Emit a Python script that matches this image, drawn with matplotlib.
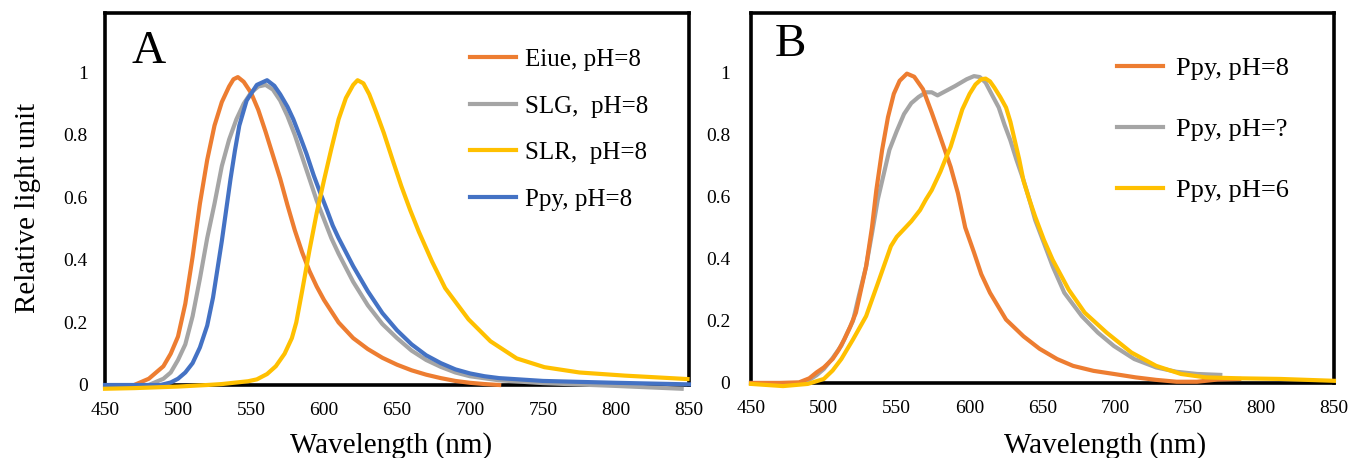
import matplotlib.pyplot as plt
from matplotlib.ticker import FixedLocator

plt.rcParams['font.family'] = ['Liberation Serif', 'DejaVu Serif']

ORANGE = '#ED7D31'
GRAY = '#A5A5A5'
YELLOW = '#FFC000'
BLUE = '#4472C4'

# ---- panel A data (wavelength nm, relative light unit)
eiue_wl = [470, 480, 490, 495, 500, 505, 510, 515, 520, 525, 530, 535, 538, 541, 545, 550,
           555, 560, 565, 570, 575, 580, 585, 590, 595, 600, 610, 620, 630, 640, 650, 660,
           670, 680, 690, 700, 710, 720]
eiue_val = [0, 0.02, 0.06, 0.10, 0.155, 0.26, 0.41, 0.58, 0.72, 0.83, 0.905, 0.955, 0.978,
            0.985, 0.97, 0.935, 0.88, 0.81, 0.735, 0.66, 0.575, 0.495, 0.425, 0.365, 0.315,
            0.272, 0.20, 0.15, 0.115, 0.087, 0.065, 0.047, 0.033, 0.022, 0.013, 0.007,
            0.003, 0.0]

slg_wl = [480, 490, 495, 500, 505, 510, 515, 520, 525, 530, 535, 540, 545, 550, 555, 560,
          565, 570, 575, 580, 585, 590, 595, 600, 605, 610, 620, 630, 640, 650, 660, 670,
          680, 690, 700, 720, 750, 800, 845]
slg_val = [0, 0.02, 0.04, 0.08, 0.13, 0.22, 0.34, 0.47, 0.58, 0.70, 0.785, 0.85, 0.90, 0.935,
           0.955, 0.96, 0.945, 0.91, 0.86, 0.80, 0.73, 0.66, 0.59, 0.53, 0.47, 0.42, 0.33,
           0.255, 0.195, 0.15, 0.11, 0.08, 0.058, 0.04, 0.028, 0.015, 0.006, -0.003, -0.012]

slr_wl = [450, 470, 500, 520, 530, 540, 548, 554, 561, 567, 573, 578, 581, 585, 590, 595,
          600, 605, 610, 615, 620, 623, 627, 631, 636, 641, 647, 653, 659, 665, 674, 683,
          699, 714, 732, 751, 775, 806, 849]
slr_val = [-0.012, -0.01, -0.005, 0.0, 0.003, 0.008, 0.012, 0.018, 0.035, 0.06, 0.10, 0.15,
           0.20, 0.30, 0.43, 0.55, 0.655, 0.755, 0.85, 0.918, 0.96, 0.975, 0.965, 0.93, 0.87,
           0.806, 0.72, 0.636, 0.56, 0.49, 0.395, 0.31, 0.21, 0.14, 0.085, 0.057, 0.04,
           0.03, 0.019]

ppy_wl = [450, 488, 495, 500, 505, 510, 515, 520, 524, 527, 530, 533, 536, 539, 542, 547,
          554, 561, 566, 570, 575, 579, 584, 588, 593, 597, 602, 606, 610, 620, 630, 640,
          650, 660, 670, 680, 690, 700, 710, 720, 750, 800, 850]
ppy_val = [0, 0, 0.008, 0.02, 0.04, 0.07, 0.12, 0.19, 0.28, 0.37, 0.46, 0.56, 0.66, 0.75,
           0.83, 0.91, 0.96, 0.975, 0.957, 0.93, 0.89, 0.85, 0.79, 0.74, 0.67, 0.62, 0.56,
           0.51, 0.47, 0.38, 0.30, 0.23, 0.175, 0.13, 0.095, 0.07, 0.05, 0.037, 0.028, 0.022,
           0.013, 0.007, 0.002]

# ---- panel B data
b8_wl = [450, 470, 483, 490, 495, 500, 506, 510, 514, 518, 522, 525, 529, 533, 536, 540,
         544, 548, 552, 557, 562, 568, 574, 580, 587, 592, 597, 603, 608, 614, 625, 637,
         648, 660, 671, 685, 699, 714, 728, 742, 756, 770, 785]
b8_val = [0, 0, 0.002, 0.015, 0.034, 0.05, 0.077, 0.105, 0.14, 0.18, 0.226, 0.29, 0.375,
          0.50, 0.62, 0.75, 0.855, 0.93, 0.972, 0.995, 0.985, 0.945, 0.87, 0.79, 0.695, 0.61,
          0.50, 0.42, 0.35, 0.29, 0.204, 0.15, 0.11, 0.077, 0.055, 0.039, 0.029, 0.018, 0.01,
          0.004, 0.004, 0.011, 0.013]

bq_wl = [450, 483, 490, 495, 500, 506, 512, 516, 520, 524, 529, 533, 537, 541, 545, 550,
         555, 560, 565, 570, 574, 578, 582, 586, 590, 594, 598, 603, 607, 611, 615, 620,
         624, 628, 632, 637, 641, 645, 651, 657, 665, 677, 688, 699, 713, 728, 742, 756, 772]
bq_val = [0, 0, 0.01, 0.025, 0.045, 0.08, 0.12, 0.16, 0.20, 0.28, 0.375, 0.48, 0.59, 0.67,
          0.75, 0.81, 0.865, 0.90, 0.92, 0.935, 0.935, 0.925, 0.935, 0.945, 0.955, 0.966,
          0.977, 0.987, 0.984, 0.966, 0.93, 0.886, 0.83, 0.78, 0.72, 0.652, 0.59, 0.524,
          0.45, 0.375, 0.29, 0.215, 0.162, 0.119, 0.077, 0.05, 0.036, 0.029, 0.026]

b6_wl = [450, 472, 489, 500, 506, 512, 520, 529, 537, 546, 550, 554, 560, 566, 570, 574,
         580, 583, 587, 591, 595, 600, 604, 608, 611, 614, 617, 621, 625, 628, 631, 634,
         637, 641, 645, 651, 657, 668, 679, 694, 711, 728, 745, 762, 785, 813, 850]
b6_val = [-0.003, -0.01, -0.003, 0.013, 0.04, 0.077, 0.14, 0.215, 0.32, 0.44, 0.47, 0.49,
          0.52, 0.556, 0.59, 0.62, 0.68, 0.715, 0.76, 0.82, 0.88, 0.93, 0.96, 0.977, 0.979,
          0.97, 0.95, 0.92, 0.886, 0.84, 0.78, 0.72, 0.65, 0.59, 0.535, 0.46, 0.396, 0.30,
          0.226, 0.162, 0.098, 0.055, 0.029, 0.018, 0.015, 0.013, 0.007]

x_ticks = [450, 500, 550, 600, 650, 700, 750, 800, 850]
y_ticks = [0, 0.2, 0.4, 0.6, 0.8, 1.0]
y_labels = ['0', '0.2', '0.4', '0.6', '0.8', '1']

fig = plt.figure(figsize=(13.48, 4.58), dpi=100)
axA = fig.add_axes([0.0779, 0.1594, 0.4332, 0.8122])
axB = fig.add_axes([0.5571, 0.1638, 0.4325, 0.8078])


def style(ax, ypad):
    ax.set_xlim(450, 850)
    ax.set_ylim(0, 1.19)
    ax.xaxis.set_major_locator(FixedLocator(x_ticks))
    ax.set_yticks(y_ticks)
    ax.set_yticklabels(y_labels)
    ax.tick_params(axis='x', length=0, pad=12, labelsize=14)
    ax.tick_params(axis='y', length=0, pad=ypad, labelsize=14)
    for s in ax.spines.values():
        s.set_linewidth(2.6)
        s.set_color('black')


style(axA, 12.5)
style(axB, 15)

lw = 3
axA.plot(slg_wl, slg_val, color=GRAY, lw=lw, label='SLG,  pH=8', zorder=3, clip_on=False)
axA.plot(eiue_wl, eiue_val, color=ORANGE, lw=lw, label='Eiue, pH=8', zorder=4, clip_on=False)
axA.plot(ppy_wl, ppy_val, color=BLUE, lw=lw, label='Ppy, pH=8', zorder=5, clip_on=False)
axA.plot(slr_wl, slr_val, color=YELLOW, lw=lw, label='SLR,  pH=8', zorder=6, clip_on=False)

h, l = axA.get_legend_handles_labels()
order = [1, 0, 3, 2]
axA.legend([h[i] for i in order], [l[i] for i in order], loc='upper left',
           bbox_to_anchor=(0.625, 0.904), frameon=False, fontsize=18, borderpad=0,
           borderaxespad=0, handlelength=1.84, handletextpad=0.35, labelspacing=0.96)

axB.plot(bq_wl, bq_val, color=GRAY, lw=lw, label='Ppy, pH=?', zorder=3, clip_on=False)
axB.plot(b8_wl, b8_val, color=ORANGE, lw=lw, label='Ppy, pH=8', zorder=4, clip_on=False)
axB.plot(b6_wl, b6_val, color=YELLOW, lw=lw, label='Ppy, pH=6', zorder=5, clip_on=False)

h, l = axB.get_legend_handles_labels()
order = [1, 0, 2]
axB.legend([h[i] for i in order], [l[i] for i in order], loc='upper left',
           bbox_to_anchor=(0.628, 0.883), frameon=False, fontsize=19, borderpad=0,
           borderaxespad=0, handlelength=1.74, handletextpad=0.5, labelspacing=1.43)

axA.text(0.075, 0.895, 'A', transform=axA.transAxes, fontsize=34, ha='center', va='center')
axB.text(0.067, 0.913, 'B', transform=axB.transAxes, fontsize=34, ha='center', va='center')

axA.set_ylabel('Relative light unit', fontsize=21)
axA.yaxis.set_label_coords(-0.11, 0.476)
axA.set_xlabel('Wavelength (nm)', fontsize=21)
axA.xaxis.set_label_coords(0.49, -0.127)
axB.set_xlabel('Wavelength (nm)', fontsize=21)
axB.xaxis.set_label_coords(0.607, -0.133)

fig.savefig('out.png', dpi=100)
